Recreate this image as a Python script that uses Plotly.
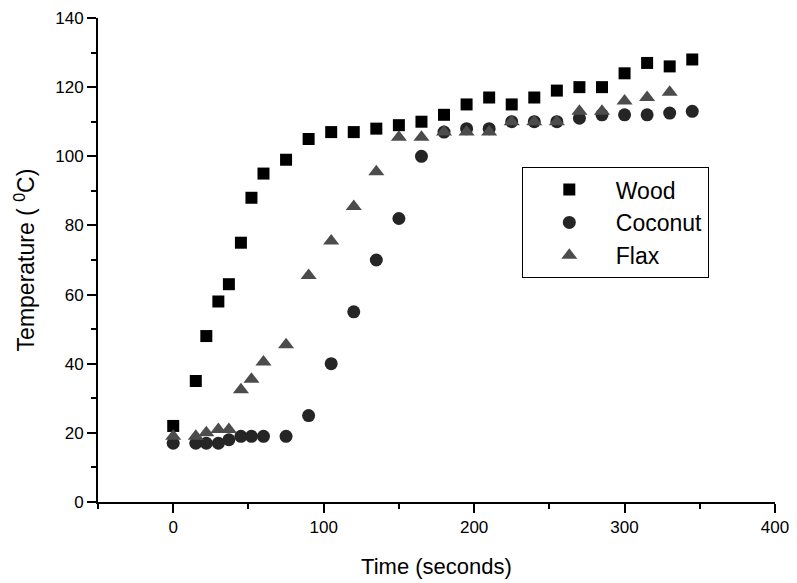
import plotly.graph_objects as go

time_s = [0, 15, 22, 30, 37, 45, 52, 60, 75, 90, 105, 120, 135, 150, 165, 180,
          195, 210, 225, 240, 255, 270, 285, 300, 315, 330, 345]
wood = [22, 35, 48, 58, 63, 75, 88, 95, 99, 105, 107, 107, 108, 109, 110, 112,
        115, 117, 115, 117, 119, 120, 120, 124, 127, 126, 128]
coconut = [17, 17, 17, 17, 18, 19, 19, 19, 19, 25, 40, 55, 70, 82, 100, 107,
           108, 108, 110, 110, 110, 111, 112, 112, 112, 112.5, 113]
flax_time = time_s[:-1]
flax = [19, 19, 20, 21, 21, 32.5, 35.5, 40.5, 45.5, 65.5, 75.5, 85.5, 95.5, 105.5, 105.5,
        107, 107, 107, 110, 110, 110, 113, 113, 116, 117, 118.5]

font = "Liberation Sans, Arial, sans-serif"

fig = go.Figure()
fig.add_trace(go.Scatter(x=time_s, y=wood, mode="markers", name="Wood",
                         marker=dict(symbol="square", size=12, color="#000000", line=dict(width=0))))
fig.add_trace(go.Scatter(x=time_s, y=coconut, mode="markers", name="Coconut",
                         marker=dict(symbol="circle", size=13, color="#252525", line=dict(width=0))))
fig.add_trace(go.Scatter(x=flax_time, y=flax, mode="markers", name="Flax",
                         marker=dict(symbol="triangle-up", size=14, color="#4c4c4c", line=dict(width=0))))

fig.update_layout(
    width=797, height=583,
    margin=dict(l=90, r=30, t=10, b=89, autoexpand=False),
    paper_bgcolor="white", plot_bgcolor="white",
    font=dict(family=font, color="black", size=17),
    showlegend=True,
    legend=dict(x=0.626, y=0.692, xanchor="left", yanchor="top",
                bordercolor="black", borderwidth=1, bgcolor="white",
                font=dict(size=23, family=font), itemwidth=83,
                tracegroupgap=0),
)
fig.update_xaxes(range=[-50, 400], dtick=100, tick0=0, showgrid=False, zeroline=False,
                 showline=True, linecolor="black", linewidth=2, automargin=False,
                 ticks="outside", ticklen=9, tickwidth=2, tickcolor="black",
                 minor=dict(dtick=50, tick0=0, ticks="outside", ticklen=5, tickwidth=2, tickcolor="black"),
                 tickfont=dict(size=17, family=font),
                 title=dict(text="Time (seconds)", font=dict(size=22, family=font), standoff=22))
fig.update_yaxes(range=[0, 140], dtick=20, showgrid=False, zeroline=False,
                 showline=True, linecolor="black", linewidth=2, automargin=False,
                 ticks="outside", ticklen=9, tickwidth=2, tickcolor="black",
                 minor=dict(dtick=10, ticks="outside", ticklen=5, tickwidth=2, tickcolor="black"),
                 tickfont=dict(size=17, family=font),
                 title=dict(text="Temperature ( <sup>0</sup>C)", font=dict(size=23, family=font), standoff=14))

fig.write_html("out.html")
